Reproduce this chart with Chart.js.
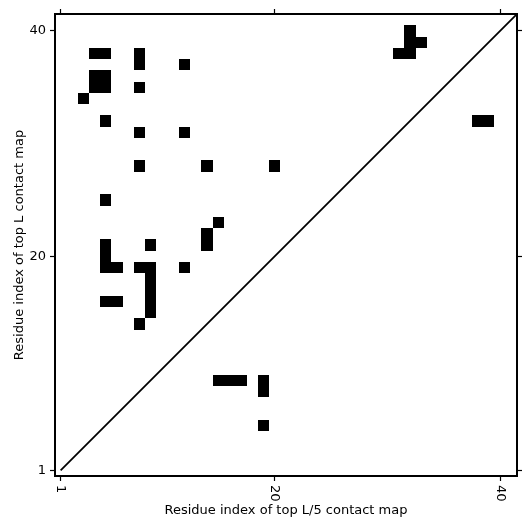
<!DOCTYPE html>
<html>
<head>
<meta charset="utf-8">
<script src="https://cdn.jsdelivr.net/npm/chart.js@4/dist/chart.umd.min.js"></script>
<style>
  html, body { margin: 0; padding: 0; background: #fff; }
  #wrap { width: 531px; height: 531px; }
</style>
</head>
<body>
<div id="wrap"><canvas id="contactChart"></canvas></div>
<script>
// Contact map data (residue i, residue j)
const contactX = [4, 5, 8, 8, 12, 4, 5, 4, 5, 8, 3, 5, 8, 12, 8, 14, 20, 5, 15, 14, 14, 5, 5, 5, 6, 9, 8, 9, 9, 9, 9, 9, 12, 5, 6, 8, 15, 16, 17, 19, 19, 19, 32, 32, 33, 31, 32, 38, 39];
const contactY = [38, 38, 38, 37, 37, 36, 36, 35, 35, 35, 34, 32, 31, 31, 28, 28, 28, 25, 23, 22, 21, 21, 20, 19, 19, 21, 19, 19, 18, 17, 16, 15, 19, 16, 16, 14, 9, 9, 9, 9, 8, 5, 40, 39, 39, 38, 38, 32, 32];
const diagonal = [1, 41.5];
const xTickLabels = [1, 20, 40];
const yTickLabels = [1, 20, 40];
const axisMin = 0.5;
const axisMax = 41.5;

const FONT = "'DejaVu Sans', sans-serif";

// draw each contact as a filled cell, sized from the scales
const cellPlugin = {
    id: 'cells',
    beforeDatasetsDraw(chart) {
        const ctx = chart.ctx;
        const xs = chart.scales.x;
        const ys = chart.scales.y;
        const area = chart.chartArea;
        ctx.save();
        ctx.beginPath();
        ctx.rect(area.left, area.top, area.right - area.left, area.bottom - area.top);
        ctx.clip();
        ctx.fillStyle = '#000';
        chart.data.datasets[0].data.forEach(p => {
            // round edges so neighbouring cells join without seams
            const x0 = Math.round(xs.getPixelForValue(p.x - 0.5));
            const x1 = Math.round(xs.getPixelForValue(p.x + 0.5));
            const y0 = Math.round(ys.getPixelForValue(p.y + 0.5));
            const y1 = Math.round(ys.getPixelForValue(p.y - 0.5));
            ctx.fillRect(x0, y0, x1 - x0, y1 - y0);
        });
        ctx.restore();
    },
    afterDraw(chart) {
        // x tick labels, rotated clockwise
        const ctx = chart.ctx;
        const xs = chart.scales.x;
        ctx.save();
        ctx.fillStyle = '#000';
        ctx.font = '13px ' + FONT;
        ctx.textAlign = 'left';
        ctx.textBaseline = 'middle';
        xTickLabels.forEach(v => {
            ctx.save();
            ctx.translate(xs.getPixelForValue(v), chart.chartArea.bottom + 9);
            ctx.rotate(Math.PI / 2);
            ctx.fillText(String(v), 0, 0);
            ctx.restore();
        });
        ctx.restore();
    }
};

function setTicks(values) {
    return function(scale) {
        scale.ticks = values.map(v => ({ value: v }));
    };
}

const gridOpts = {
    drawOnChartArea: false,
    drawTicks: true,
    tickLength: 5,
    tickWidth: 1.2,
    tickColor: '#000'
};
const borderOpts = { display: true, color: '#000', width: 2 };

const chart = new Chart(document.getElementById('contactChart'), {
    type: 'scatter',
    data: {
        datasets: [{
            label: 'contacts',
            data: contactX.map((x, i) => ({ x: x, y: contactY[i] })),
            pointRadius: 0,
            pointHoverRadius: 0
        }, {
            type: 'line',
            label: 'diagonal',
            data: diagonal.map(v => ({ x: v, y: v })),
            borderColor: '#000',
            borderWidth: 1.8,
            pointRadius: 0,
            fill: false
        }]
    },
    plugins: [cellPlugin],
    options: {
        responsive: true,
        maintainAspectRatio: false,
        animation: false,
        layout: { padding: 0 },
        plugins: {
            legend: { display: false },
            tooltip: { enabled: false }
        },
        scales: {
            x: {
                type: 'linear',
                position: 'bottom',
                min: axisMin,
                max: axisMax,
                afterBuildTicks: setTicks(xTickLabels),
                afterFit: function(scale) { scale.height = 55; },
                grid: gridOpts,
                border: borderOpts,
                ticks: { display: false },
                title: {
                    display: true,
                    text: 'Residue index of top L/5 contact map',
                    color: '#000',
                    font: { family: FONT, size: 13 },
                    padding: { top: 0, bottom: 13 }
                }
            },
            x2: {
                type: 'linear',
                position: 'top',
                min: axisMin,
                max: axisMax,
                afterBuildTicks: setTicks(xTickLabels),
                afterFit: function(scale) { scale.height = 14; },
                grid: gridOpts,
                border: borderOpts,
                ticks: { display: false }
            },
            y: {
                type: 'linear',
                position: 'left',
                min: axisMin,
                max: axisMax,
                afterBuildTicks: setTicks(yTickLabels),
                afterFit: function(scale) { scale.width = 55; },
                grid: gridOpts,
                border: borderOpts,
                ticks: {
                    color: '#000',
                    padding: 4,
                    font: { family: FONT, size: 13 },
                    callback: function(value) { return String(value); }
                },
                title: {
                    display: true,
                    text: 'Residue index of top L contact map',
                    color: '#000',
                    font: { family: FONT, size: 13 },
                    padding: { top: 12, bottom: 0 }
                }
            },
            y2: {
                type: 'linear',
                position: 'right',
                min: axisMin,
                max: axisMax,
                afterBuildTicks: setTicks(yTickLabels),
                afterFit: function(scale) { scale.width = 14; },
                grid: gridOpts,
                border: borderOpts,
                ticks: { display: false }
            }
        }
    }
});
</script>
</body>
</html>
